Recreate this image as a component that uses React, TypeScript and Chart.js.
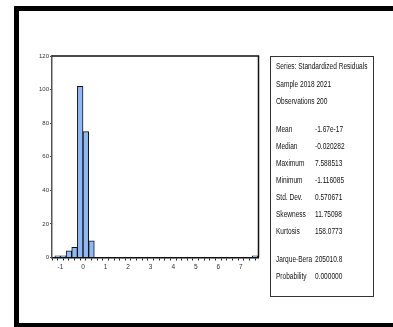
import React, { useEffect, useRef } from "react";
import { Chart, registerables } from "chart.js";

Chart.register(...registerables);

// ---- data ----
const binWidth = 0.25;
const binStarts = [
  -1.25, -1.0, -0.75, -0.5, -0.25, 0.0, 0.25, 0.5, 0.75, 1.0, 1.25, 1.5,
  1.75, 2.0, 2.25, 2.5, 2.75, 3.0, 3.25, 3.5, 3.75, 4.0, 4.25, 4.5, 4.75,
  5.0, 5.25, 5.5, 5.75, 6.0, 6.25, 6.5, 6.75, 7.0, 7.25, 7.5,
];
const binCounts = [
  1, 1, 4, 6, 102, 75, 10, 0, 0, 0, 0, 0, 0, 0, 0, 0, 0, 0, 0, 0, 0, 0, 0,
  0, 0, 0, 0, 0, 0, 0, 0, 0, 0, 0, 0, 1,
];
const xMin = -1.375;
const xMax = 7.78;
const xTickValues = [
  -1.25, -1.0, -0.75, -0.5, -0.25, 0.0, 0.25, 0.5, 0.75, 1.0, 1.25, 1.5,
  1.75, 2.0, 2.25, 2.5, 2.75, 3.0, 3.25, 3.5, 3.75, 4.0, 4.25, 4.5, 4.75,
  5.0, 5.25, 5.5, 5.75, 6.0, 6.25, 6.5, 6.75, 7.0, 7.25, 7.5, 7.75,
];
const yTickValues = [0, 20, 40, 60, 80, 100, 120];

const headerLines = ["Series: Standardized Residuals", "Sample 2018 2021", "Observations 200"];
const statLabels = ["Mean", "Median", "Maximum", "Minimum", "Std. Dev.", "Skewness", "Kurtosis"];
const statValues = ["-1.67e-17", "-0.020282", "7.588513", "-1.116085", "0.570671", "11.75098", "158.0773"];
const testLabels = ["Jarque-Bera", "Probability"];
const testValues = ["205010.8", "0.000000"];

const FONT = '"Liberation Sans", Arial, sans-serif';

const framePlugin = {
  id: "frame",
  afterDraw(chart: any) {
    const { ctx, chartArea } = chart;
    ctx.save();
    ctx.strokeStyle = "#111";
    ctx.lineWidth = 1.5;
    ctx.beginPath();
    ctx.moveTo(chartArea.left, chartArea.top);
    ctx.lineTo(chartArea.right, chartArea.top);
    ctx.lineTo(chartArea.right, chartArea.bottom);
    ctx.stroke();
    ctx.restore();
  },
};

export default function App() {
  const ref = useRef<HTMLCanvasElement | null>(null);

  useEffect(() => {
    if (!ref.current) return;
    const chart = new Chart(ref.current, {
      type: "bar",
      data: {
        datasets: [
          {
            data: binStarts.map((s, i) => ({
              x: s + binWidth / 2,
              y: binCounts[i] === 0 ? null : binCounts[i],
            })) as any,
            backgroundColor: "#8FB8F4",
            borderColor: "#111",
            borderWidth: 1,
            barPercentage: 1,
            categoryPercentage: 1,
          },
        ],
      },
      options: {
        responsive: false,
        animation: false,
        devicePixelRatio: 1,
        layout: { padding: { left: 0, top: 56, right: 393 - 258.5, bottom: 0 } },
        plugins: { legend: { display: false }, tooltip: { enabled: false } },
        scales: {
          x: {
            type: "linear",
            offset: false,
            min: xMin,
            max: xMax,
            afterBuildTicks: (s: any) => {
              s.ticks = xTickValues.map((v) => ({ value: v }));
            },
            afterFit: (s: any) => {
              s.height = 327 - 257.5;
            },
            grid: {
              display: true,
              drawOnChartArea: false,
              drawTicks: true,
              tickLength: 3,
              color: "#222",
              lineWidth: 1,
            },
            border: { display: true, color: "#111", width: 1.5 },
            ticks: {
              autoSkip: false,
              maxRotation: 0,
              padding: 3,
              color: "#333",
              font: { family: FONT, size: 6.5 },
              callback: (v: any) => (Number.isInteger(Number(v)) ? String(v) : ""),
            },
          },
          y: {
            min: 0,
            max: 120,
            afterBuildTicks: (s: any) => {
              s.ticks = yTickValues.map((v) => ({ value: v }));
            },
            afterFit: (s: any) => {
              s.width = 52;
            },
            grid: {
              display: true,
              drawOnChartArea: false,
              drawTicks: true,
              tickLength: 2,
              color: "#444",
            },
            border: { display: true, color: "#555", width: 1.5 },
            ticks: {
              padding: 1,
              color: "#333",
              font: { family: FONT, size: 6 },
            },
          },
        },
      },
      plugins: [framePlugin],
    } as any);
    return () => chart.destroy();
  }, []);

  const textStyle: React.CSSProperties = {
    position: "absolute",
    fontFamily: FONT,
    fontSize: "8.3px",
    lineHeight: "10px",
    color: "#111",
    whiteSpace: "nowrap",
    transform: "scaleX(0.79)",
    transformOrigin: "0 50%",
  };

  const headerY = [66, 83.5, 101];
  const statY = [128.5, 145.5, 162.5, 179.5, 196.5, 213.5, 230.5];
  const testY = [259, 276];
  const valueX = 315;

  return (
    <div
      style={{
        position: "fixed",
        left: 0,
        top: 0,
        width: 393,
        height: 327,
        overflow: "hidden",
        background: "#fff",
      }}
    >
      <canvas
        ref={ref}
        width={393}
        height={327}
        style={{ position: "absolute", left: 0, top: 0, width: 393, height: 327 }}
      />
      <div
        style={{
          position: "absolute",
          left: 14,
          top: 6,
          width: 430,
          height: 322,
          boxSizing: "border-box",
          borderTop: "5px solid #000",
          borderLeft: "5px solid #000",
          borderBottom: "5px solid #000",
          pointerEvents: "none",
        }}
      />
      <div
        style={{
          position: "absolute",
          left: 270,
          top: 56,
          width: 104,
          height: 241,
          boxSizing: "border-box",
          border: "1px solid #333",
        }}
      />
      {headerLines.map((t, i) => (
        <div key={"h" + i} style={{ ...textStyle, left: 276, top: headerY[i] - 5 }}>
          {t}
        </div>
      ))}
      {statLabels.map((t, i) => (
        <React.Fragment key={"s" + i}>
          <div style={{ ...textStyle, left: 276, top: statY[i] - 5 }}>{t}</div>
          <div style={{ ...textStyle, left: valueX, top: statY[i] - 5 }}>{statValues[i]}</div>
        </React.Fragment>
      ))}
      {testLabels.map((t, i) => (
        <React.Fragment key={"t" + i}>
          <div style={{ ...textStyle, left: 276, top: testY[i] - 5 }}>{t}</div>
          <div style={{ ...textStyle, left: valueX, top: testY[i] - 5 }}>{testValues[i]}</div>
        </React.Fragment>
      ))}
    </div>
  );
}
